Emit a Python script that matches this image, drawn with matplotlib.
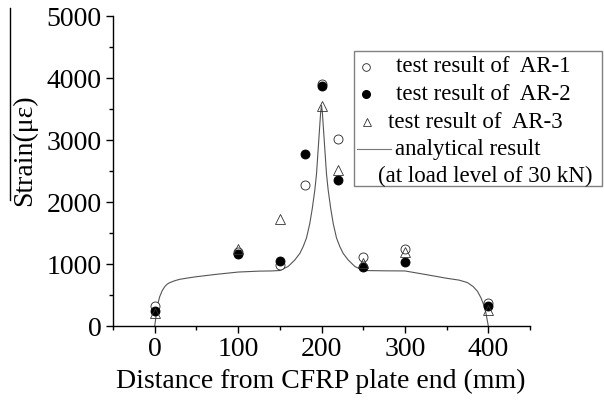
import matplotlib
matplotlib.use("Agg")
import matplotlib.pyplot as plt
from matplotlib.lines import Line2D
from matplotlib.patches import Rectangle
from matplotlib.ticker import MultipleLocator
import numpy as np

plt.rcParams['font.family'] = ['Liberation Serif', 'DejaVu Serif']

# test data
pos = [0, 100, 150, 180, 200, 220, 250, 300, 400]
ar1 = [330, 1190, 990, 2280, 3910, 3020, 1120, 1240, 375]
ar2_x = [0, 100, 150, 180, 200, 220, 250, 300, 400]
ar2 = [245, 1155, 1050, 2780, 3875, 2360, 950, 1040, 325]
ar3_x = [0, 100, 150, 200, 220, 250, 300, 400]
ar3 = [205, 1240, 1730, 3550, 2520, 1010, 1200, 255]

# analytical curve
curve_x = [0, 2, 4, 6, 9, 12, 15, 18, 24, 30, 40, 50, 75, 100, 125, 140, 150,
           160, 168, 174, 178, 182, 186, 189, 192, 194, 196, 198, 199, 200,
           201, 202, 204, 206, 208, 211, 214, 218, 222, 226, 232, 240, 250,
           275, 300, 325, 350, 365, 375, 382, 387, 391, 394, 397, 400]
curve_y = [0, 200, 370, 473, 570, 634, 675, 699, 730, 753, 775, 795, 835, 870,
           885, 888, 895, 960, 1065, 1170, 1280, 1420, 1656, 1900, 2194, 2450,
           2850, 3250, 3450, 3560, 3450, 3250, 2850, 2450, 2194, 1900, 1656,
           1420, 1280, 1170, 1065, 960, 895, 890, 888, 830, 770, 740, 700, 634,
           560, 460, 360, 220, 0]

labels = ["test result of  AR-1", "test result of  AR-2", "test result of  AR-3",
          "analytical result", "(at load level of 30 kN)"]
xlabel = "Distance from CFRP plate end (mm)"
ylabel = "Strain(με)"

W, H = 604, 400
def fp(x, y):
    return (x / W, 1 - y / H)

fig = plt.figure(figsize=(6.04, 4.0), dpi=100)
ax = fig.add_axes([113/W, 74/H, (530-113)/W, (326-16)/H])

ax.plot(curve_x, curve_y, color='#555555', lw=0.8, zorder=2)
ms = 6.5
ax.plot(pos, ar1, 'o', mfc='white', mec='#222222', mew=0.6, ms=ms, zorder=3)
ax.plot(ar2_x, ar2, 'o', mfc='black', mec='black', mew=0.6, ms=ms, zorder=4)
ax.plot(ar3_x, ar3, '^', mfc='none', mec='#333333', mew=0.6, ms=ms, zorder=5)

ax.set_xlim(-50, 450)
ax.set_ylim(0, 5000)
ax.xaxis.set_major_locator(MultipleLocator(100))
ax.xaxis.set_minor_locator(MultipleLocator(50))
ax.yaxis.set_major_locator(MultipleLocator(1000))
ax.yaxis.set_minor_locator(MultipleLocator(500))
ax.spines['top'].set_visible(False)
ax.spines['right'].set_visible(False)
for s in ('left', 'bottom'):
    ax.spines[s].set_linewidth(1.0)
ax.tick_params(which='major', direction='out', length=5, width=1, labelsize=20, pad=3)
ax.tick_params(which='minor', direction='out', length=3, width=1)

fig.text(*fp(321, 381), xlabel, ha='center', va='center', fontsize=20)
fig.text(*fp(25, 150), ylabel, ha='center', va='center', rotation=90, fontsize=20)
fig.add_artist(Line2D([10/W, 10/W], [1 - 8/H, 1 - 200/H], color='black', lw=1.0))

# legend box drawn in figure pixels
x0, y0 = fp(354, 186)
x1, y1 = fp(602, 51)
fig.add_artist(Rectangle((x0, y0), x1 - x0, y1 - y0, transform=fig.transFigure,
                         facecolor='white', edgecolor='#808080', lw=1.0, zorder=10))
row_y = [67, 94, 122, 149, 176]
text_x = [396, 396, 388, 395, 378]
lms = 5.5
mx, my = fp(366, row_y[0])
fig.add_artist(Line2D([mx], [my], ls='none', marker='o', mfc='white', mec='#222222',
                      mew=0.6, ms=lms, zorder=11))
mx, my = fp(366, row_y[1])
fig.add_artist(Line2D([mx], [my], ls='none', marker='o', mfc='black', mec='black',
                      ms=lms, zorder=11))
mx, my = fp(367, row_y[2])
fig.add_artist(Line2D([mx], [my], ls='none', marker='^', mfc='none', mec='#333333',
                      mew=0.6, ms=lms, zorder=11))
lx0, ly = fp(357, row_y[3])
lx1, _ = fp(391, row_y[3])
fig.add_artist(Line2D([lx0, lx1], [ly, ly], color='#777777', lw=0.8, zorder=11))
for lab, tx, ty in zip(labels, text_x, row_y):
    fig.text(*fp(tx, ty), lab, ha='left', va='center', fontsize=16.5, zorder=12)

fig.savefig("out.png", dpi=100)
